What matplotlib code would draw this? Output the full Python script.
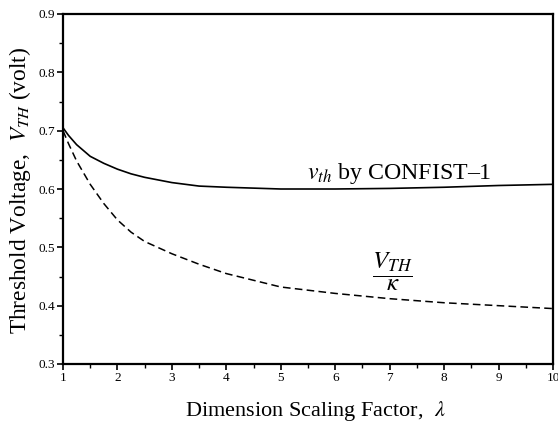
import matplotlib
matplotlib.use("Agg")
import matplotlib.pyplot as plt
from matplotlib.ticker import MultipleLocator

lam = [1.0, 1.1, 1.25, 1.5, 1.75, 2.0, 2.25, 2.5, 3.0, 3.5, 4.0, 5.0, 6.0, 7.0, 8.0, 9.0, 10.0]
vth_confist = [0.705, 0.692, 0.676, 0.656, 0.644, 0.634, 0.626, 0.620, 0.611, 0.605, 0.603, 0.600, 0.600, 0.601, 0.603, 0.606, 0.608]
vth_over_kappa = [0.700, 0.678, 0.648, 0.608, 0.575, 0.547, 0.526, 0.510, 0.489, 0.471, 0.455, 0.432, 0.421, 0.412, 0.405, 0.400, 0.395]

x_ticks = [1, 2, 3, 4, 5, 6, 7, 8, 9, 10]
y_ticks = [0.3, 0.4, 0.5, 0.6, 0.7, 0.8, 0.9]

plt.rcParams['font.family'] = ['Liberation Serif', 'DejaVu Serif']
plt.rcParams['mathtext.fontset'] = 'stix'

fig = plt.figure(figsize=(5.58, 4.24), dpi=100)
ax = fig.add_axes([63/558, (424-364)/424, 490/558, 350/424])

ax.plot(lam, vth_confist, color='black', lw=1.2, solid_capstyle='round')
ax.plot(lam, vth_over_kappa, color='black', lw=1.1, dashes=(5, 2.8))

ax.set_xlim(1, 10)
ax.set_ylim(0.3, 0.9)
ax.set_xticks(x_ticks)
ax.set_yticks(y_ticks)
ax.set_xticklabels([str(t) for t in x_ticks])
ax.set_yticklabels([f"{t:.1f}" for t in y_ticks])
ax.xaxis.set_minor_locator(MultipleLocator(0.5))
ax.yaxis.set_minor_locator(MultipleLocator(0.05))
ax.tick_params(which='major', direction='out', length=4, width=1.2, labelsize=9.5, pad=2)
ax.tick_params(which='minor', direction='out', length=3, width=1.0)
for s in ax.spines.values():
    s.set_linewidth(1.6)

ax.set_xlabel(r"Dimension Scaling Factor,  $\lambda$", fontsize=16)
ax.xaxis.label.set_va('baseline')
ax.xaxis.set_label_coords((315 - 63) / 490, -(416 - 364) / 350)

ax.set_ylabel(r"Threshold Voltage,  $V_{TH}$ (volt)", fontsize=16.8)
ax.yaxis.label.set_va('center')
ax.yaxis.set_label_coords((20 - 63) / 490, (364 - 190) / 350)

ax.text(7.17, 0.617, r"$v_{th}$ by CONFIST–1", fontsize=17.2, ha='center', va='baseline')
ax.text(7.05, 0.457, r"$\dfrac{V_{TH}}{\kappa}$", fontsize=18, ha='center', va='center')

fig.savefig("out.png", dpi=100)
